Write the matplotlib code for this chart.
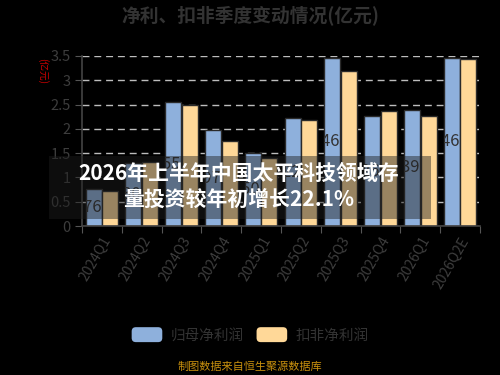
import numpy as np
import matplotlib
matplotlib.use("Agg")
import matplotlib.pyplot as plt
import matplotlib.patches as mpatches
from matplotlib.patches import FancyBboxPatch
from matplotlib.legend_handler import HandlerPatch

plt.rcParams['font.family'] = ['Noto Sans CJK SC', 'DejaVu Sans']
plt.rcParams['axes.unicode_minus'] = False

# 数据
quarters = ["2024Q1", "2024Q2", "2024Q3", "2024Q4", "2025Q1",
            "2025Q2", "2025Q3", "2025Q4", "2026Q1", "2026Q2E"]
net_profit = [0.76, 1.30, 2.55, 1.97, 1.50, 2.22, 3.46, 2.26, 2.39, 3.46]
deducted_profit = [0.72, 1.32, 2.48, 1.75, 1.41, 2.18, 3.18, 2.37, 2.27, 3.44]
y_ticks = [0, 0.5, 1, 1.5, 2, 2.5, 3, 3.5]

title = "净利、扣非季度变动情况(亿元)"
unit = "(亿元)"
legend_names = ["归母净利润", "扣非净利润"]
source = "制图数据来自恒生聚源数据库"
headline = "2026年上半年中国太平科技领域存\n量投资较年初增长22.1%"

BLUE = "#8eb0dc"
ORANGE = "#ffd898"
GREY = "#3d3d3d"


class RoundHandler(HandlerPatch):
    def create_artists(self, legend, orig_handle, xdescent, ydescent,
                       width, height, fontsize, trans):
        p = FancyBboxPatch((-xdescent, -ydescent), width, height,
                           boxstyle="round,pad=0,rounding_size=3",
                           fc=orig_handle.get_facecolor(), ec="none",
                           transform=trans)
        return [p]


fig = plt.figure(figsize=(5, 3.75), dpi=100, facecolor="black")
ax = fig.add_axes([0.164, 0.397, 0.796, 0.454])
ax.set_facecolor("black")

x = np.arange(len(quarters))
w = 0.4
b1 = ax.bar(x - 0.21, net_profit, w, color=BLUE, edgecolor="#2a2a2a", linewidth=1, zorder=2)
b2 = ax.bar(x + 0.21, deducted_profit, w, color=ORANGE, edgecolor="#2a2a2a", linewidth=1, zorder=2)

# 数值标签（只在柱子内可见）
for rect, v in zip(b1, net_profit):
    t = ax.text(rect.get_x() + rect.get_width(), v / 2, f"{v:.2f}",
                ha="right", va="center", fontsize=12, color="#333333", zorder=3)
    t.set_clip_on(True)
    t.set_clip_path(rect)

ax.set_xlim(-0.5, len(quarters) - 0.5)
ax.set_ylim(0, 3.5)
ax.set_yticks(y_ticks)
ax.set_yticklabels([f"{t:g}" for t in y_ticks])
ax.yaxis.grid(True, linestyle=(0, (5, 3.5)), color="#bdbdbd", linewidth=1, zorder=0)
ax.set_axisbelow(True)

ax.set_xticks(np.arange(len(quarters) + 1) - 0.5)
ax.set_xticklabels([])
ax.set_xticks(x, minor=True)
ax.set_xticklabels(quarters, minor=True, rotation=60, ha="right",
                   rotation_mode="anchor", color=GREY, fontsize=10)
ax.tick_params(axis="x", which="minor", length=0, pad=6)
ax.tick_params(axis="x", which="major", length=5, color="#555555", direction="out")
ax.tick_params(axis="y", length=5, color="#555555", labelcolor=GREY, labelsize=10.5, pad=3)

for s in ["top", "right"]:
    ax.spines[s].set_visible(False)
for s in ["left", "bottom"]:
    ax.spines[s].set_color("#444444")
    ax.spines[s].set_linewidth(1.2)

fig.text(0.5, 0.96, title, ha="center", va="center", fontsize=13.5,
         fontweight="bold", color="#333333")
fig.text(0.086, 0.81, unit, ha="center", va="center", rotation=-90,
         fontsize=7, color="#d00000")

handles = [mpatches.Patch(facecolor=BLUE), mpatches.Patch(facecolor=ORANGE)]
fig.legend(handles, legend_names, loc="center", bbox_to_anchor=(0.5, 0.107),
           ncol=2, frameon=False, fontsize=10.5, labelcolor="#333333",
           handlelength=2.1, handleheight=1.2, handletextpad=0.55,
           columnspacing=0.9, handler_map={mpatches.Patch: RoundHandler()})

fig.text(0.5, 0.021, source, ha="center", va="center", fontsize=8, color="#c8900e")

# 覆盖的新闻标题
fig.patches.append(mpatches.Rectangle((0.098, 1 - 219 / 375), 0.764, 63 / 375,
                                      transform=fig.transFigure, facecolor="#1e1e1e",
                                      alpha=0.45, edgecolor="none", zorder=5))
fig.text(0.478, 1 - 186 / 375, headline, ha="center", va="center", fontsize=15,
         fontweight="bold", color="white", linespacing=1.3, zorder=6)

fig.savefig("out.png", dpi=100, facecolor="black")
